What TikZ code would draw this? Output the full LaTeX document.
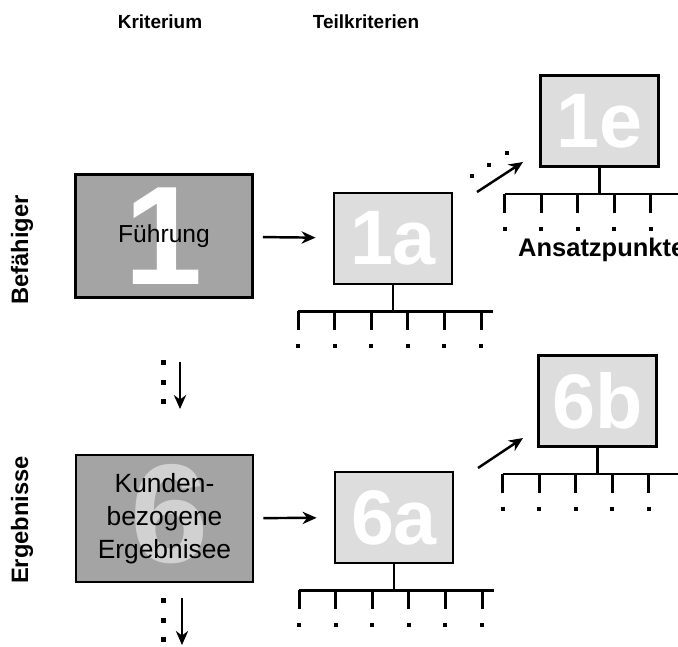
\documentclass[tikz,border=0pt]{standalone}
\usepackage{fontspec}
\setmainfont{Liberation Sans}
\usetikzlibrary{arrows.meta, calc}
\definecolor{kritgray}{HTML}{A4A4A4}
\definecolor{teilgray}{HTML}{DDDDDD}

\begin{document}
\begin{tikzpicture}[
      x=0.02cm, y=-0.02cm,
      krit/.style={draw, line width=1.6pt, fill=kritgray,
                   minimum width=3.54cm, minimum height=2.46cm, inner sep=0pt},
      teil/.style={draw, line width=1.6pt, fill=teilgray,
                   minimum width=2.36cm, minimum height=1.82cm, inner sep=0pt},
      bignum/.style={text=white, inner sep=0pt,
                     font=\fontsize{80}{80}\selectfont\bfseries},
      subnum/.style={text=white, inner sep=0pt,
                     font=\fontsize{44}{44}\selectfont\bfseries},
      head/.style={font=\fontsize{10.8}{13}\selectfont\bfseries},
      side/.style={font=\fontsize{13.5}{16}\selectfont\bfseries, rotate=90},
      conn/.style={line width=1.3pt},
      arr/.style={-{Stealth[length=8pt, width=7pt]}, line width=1.4pt},
      >=Stealth,
    ]
    \useasboundingbox (0,0) rectangle (678,646);
    \clip (0,0) rectangle (678,646);

    % Headings
    \node[head] (hkrit) at (160,22) {Kriterium};
    \node[head] (hteil) at (366,22) {Teilkriterien};
    \node[side] (sbef) at (22,250) {Befähiger};
    \node[side] (serg) at (22,520) {Ergebnisse};

    % Criterion 1
    \node[krit] (k1) at (164,236) {};
    \node[bignum] (n1) at (k1) {1};
    \node[font=\fontsize{14}{16}\selectfont] (t1) at (k1) {Führung};

    % Criterion 6
    \node[krit, minimum height=2.54cm] (k6) at (164.5,518.5) {};
    \node[bignum, opacity=0.5] (n6) at (170,514) {6};
    \node[font=\fontsize{15}{18.6}\selectfont, align=center] (t6) at (k6)
         {Kunden-\\bezogene\\Ergebnisee};

    % Sub-criteria
    \node[teil] (s1a) at (393,238.5) {};
    \node[subnum] (n1a) at (s1a) {1a};
    \node[teil] (s1e) at (599.5,121) {};
    \node[subnum] (n1e) at (s1e) {1e};
    \node[teil] (s6a) at (394,517.5) {};
    \node[subnum] (n6a) at (s6a) {6a};
    \node[teil] (s6b) at (597.5,401) {};
    \node[subnum] (n6b) at (s6b) {6b};

    \node[head, font=\fontsize{14.5}{17}\selectfont\bfseries, anchor=west]
         (ansatz) at (512,250) {Ansatzpunkte};

    % Tree of Ansatzpunkte under each sub-criterion
    \foreach \n in {s1a,s1e,s6a,s6b} {
      \draw[conn] (\n.south) -- ++(0,26) coordinate (\n-bar);
      \draw[conn] ($(\n-bar)+(-95,0)$) -- ($(\n-bar)+(100,0)$);
      \foreach \i in {0,...,5} {
        \draw[conn, line width=1.7pt] ($(\n-bar)+(-95+\i*36.6,0)$) -- ++(0,19);
        \fill ($(\n-bar)+(-97+\i*36.6,33)$) rectangle ++(4,4);
      }
    }

    % Arrows
    \draw[arr, shorten <=0.18cm, shorten >=0.34cm] (k1) -- (s1a);
    \draw[arr, shorten <=0.18cm, shorten >=0.34cm] (k6) -- (s6a);

    \coordinate (d1) at (477,192);
    \coordinate (d1e) at (523,162);
    \draw[arr] (d1) -- (d1e);
    \foreach \p in {(472,176),(489,165),(507,153)}
      \fill \p ++(-2,-2) rectangle ++(4,4);

    \coordinate (d2) at (478,468);
    \coordinate (d6b) at (523,438);
    \draw[arr] (d2) -- (d6b);

    \coordinate (v1) at (180,362);
    \coordinate (v1e) at (180,409);
    \draw[arr, line width=1pt] (v1) -- (v1e);
    \coordinate (v2) at (182,598);
    \coordinate (v2e) at (182,645);
    \draw[arr, line width=1pt] (v2) -- (v2e);
    \foreach \y in {362,382,401,600,620,639}
      \fill (163,\y) ++(-2.5,-2.5) rectangle ++(5,5);
  \end{tikzpicture}
\end{document}
